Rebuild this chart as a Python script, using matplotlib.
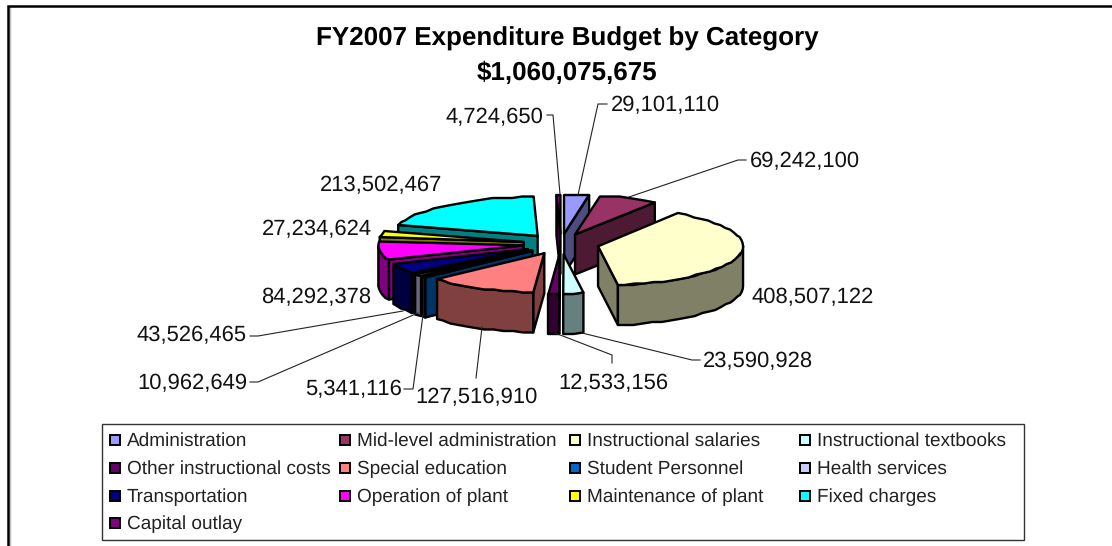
# FY2007 budget, exploded 3d style pie drawn by hand (matplotlib has no 3d pie)
import numpy as np
import matplotlib
matplotlib.use('Agg')
import matplotlib.pyplot as plt
from matplotlib.patches import Polygon, Rectangle

plt.rcParams['font.family'] = ['Liberation Sans', 'DejaVu Sans']
plt.rcParams['text.hinting'] = 'no_hinting'
plt.rcParams['text.hinting_factor'] = 1

title = 'FY2007 Expenditure Budget by Category'
total_label = '$1,060,075,675'

categories = ['Administration', 'Mid-level administration', 'Instructional salaries',
              'Instructional textbooks', 'Other instructional costs', 'Special education',
              'Student Personnel', 'Health services', 'Transportation',
              'Operation of plant', 'Maintenance of plant', 'Fixed charges', 'Capital outlay']
values = [29101110, 69242100, 408507122, 23590928, 12533156, 127516910,
          5341116, 10962649, 43526465, 84292378, 27234624, 213502467, 4724650]
top_colors = ['#9999FF', '#993366', '#FFFFCC', '#CCFFFF', '#660066', '#FF8080',
              '#0066CC', '#CCCCFF', '#000080', '#FF00FF', '#FFFF00', '#00FFFF', '#800080']

# pie geometry in pixels
cx, cy = 561, 244
radius = 145
squash = 0.27
explode = 38
depth = 40

# label anchor and leader path per slice, pixels
label_pos = [(611, 105, 'left'), (750, 162, 'left'), (751, 298, 'left'), (703, 361, 'left'),
             (613, 384, 'center'), (476, 397, 'center'), (402, 390, 'right'), (247, 383, 'right'),
             (247, 336, 'right'), (371, 297, 'right'), (372, 230, 'right'), (442, 185, 'right'),
             (543, 117, 'right')]
leaders = [[(578, 195), (598, 104), (607, 104)],
           [(629, 197), (738, 160), (746, 160)],
           [],
           [(582, 333), (692, 360), (700, 360)],
           [(555, 333), (612, 355), (612, 363)],
           [(482, 327), (476, 378)],
           [(423, 315), (413, 389), (404, 389)],
           [(418, 313), (258, 382), (250, 382)],
           [(403, 311), (258, 336), (250, 336)],
           [],
           [],
           [],
           [(560, 194), (553, 115), (547, 115)]]


def darker(col):
    rgb = matplotlib.colors.to_rgb(col)
    return tuple(c * 0.5 for c in rgb)


def arc(x0, y0, a, b):
    t = np.radians(np.arange(a, b, 4).tolist() + [b])
    x = x0 + radius * np.sin(t)
    y = y0 - squash * radius * np.cos(t)
    return np.column_stack([x, np.round(y / 1.5) * 1.5])  # the original edge is stepped


def face(ax, pts, col):
    ax.add_patch(Polygon(pts, closed=True, fc=col, ec='black', lw=1.7, joinstyle='round'))


fig = plt.figure(figsize=(11.12, 5.46), dpi=100)
ax = fig.add_axes([0, 0, 1, 1])
ax.set_xlim(0, 1112)
ax.set_ylim(546, 0)
ax.axis('off')

# chart frame, only top and left fall inside the crop
ax.plot([9.5, 9.5], [7, 546], color='#BBBBBB', lw=1)
ax.plot([8, 8, 1112], [546, 6, 6], color='black', lw=1.8, solid_joinstyle='miter')

ax.text(567, 39, title, ha='center', va='center', fontsize=18.6, fontweight='bold', color='black')
ax.text(567, 73, total_label, ha='center', va='center', fontsize=18.6, fontweight='bold', color='black')

angles = np.cumsum([0] + values) / sum(values) * 360
starts, ends = angles[:-1], angles[1:]
mids = (starts + ends) / 2

# back slices first
order = np.argsort(-np.cos(np.radians(mids)))
for i in order:
    a, b = starts[i], ends[i]
    m = np.radians(mids[i])
    x0 = cx + explode * np.sin(m)
    y0 = cy - squash * explode * np.cos(m)
    top = top_colors[i]
    side = darker(top)
    outer = arc(x0, y0, a, b)
    drop = np.array([0, depth])
    apex = np.array([x0, y0])
    if np.sin(np.radians(a)) < 0:  # cut face at the start is toward the viewer
        face(ax, [apex, outer[0], outer[0] + drop, apex + drop], side)
    if np.sin(np.radians(b)) > 0:
        face(ax, [apex, outer[-1], outer[-1] + drop, apex + drop], side)
    lo, hi = max(a, 90), min(b, 270)
    if lo < hi:
        wall = arc(x0, y0, lo, hi)
        face(ax, np.vstack([wall, wall[::-1] + drop]), side)
    face(ax, np.vstack([apex, outer]), top)

for v, (x, y, ha), path in zip(values, label_pos, leaders):
    ax.text(x, y, f'{v:,}', ha=ha, va='center', fontsize=15.8, color='#111111')
    if path:
        ax.plot(*zip(*path), color='#222222', lw=0.8)

# legend
ax.add_patch(Rectangle((102, 424), 922, 116, fc='white', ec='#333333', lw=1))
col_x = [110, 340, 570, 800]
row_y = [440, 468, 496, 523]
for i, (name, col) in enumerate(zip(categories, top_colors)):
    x = col_x[i % 4]
    y = row_y[i // 4]
    ax.add_patch(Rectangle((x, y - 5), 10, 10, fc=col, ec='black', lw=1.4))
    ax.text(x + 17, y + 1, name, ha='left', va='center', fontsize=13.5, color='#222222')

fig.savefig('out.png', dpi=100)
